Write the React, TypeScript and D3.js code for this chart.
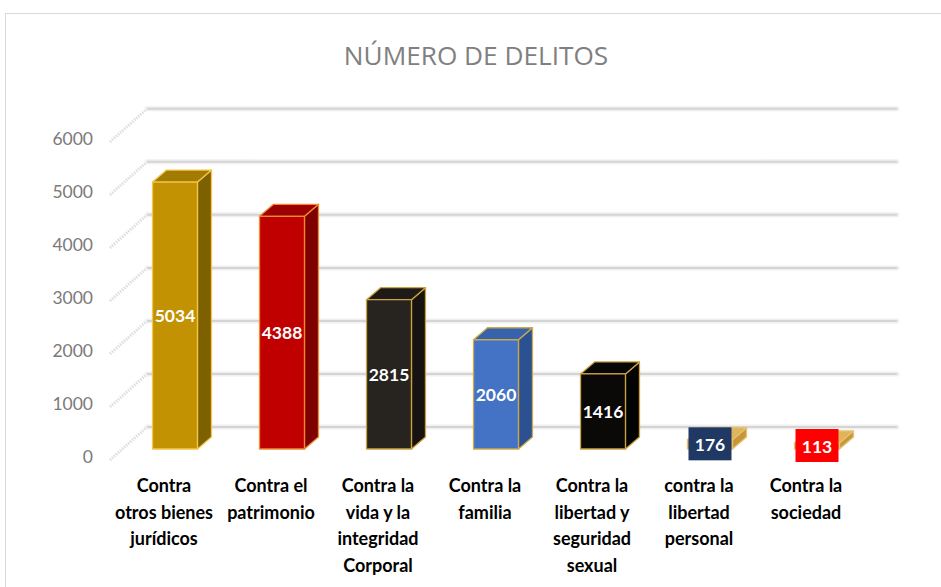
import React from "react";
import * as d3 from "d3";

const categories: string[][] = [
  ["Contra", "otros bienes", "jurídicos"],
  ["Contra el", "patrimonio"],
  ["Contra la", "vida y la", "integridad", "Corporal"],
  ["Contra la", "familia"],
  ["Contra la", "libertad y", "seguridad", "sexual"],
  ["contra la", "libertad", "personal"],
  ["Contra la", "sociedad"],
];
const values: number[] = [5034, 4388, 2815, 2060, 1416, 176, 113];
const yTicks: number[] = [0, 1000, 2000, 3000, 4000, 5000, 6000];
const title = "NÚMERO DE DELITOS";

const frontColors = ["#C29202", "#C00000", "#27231f", "#4472C4", "#0a0908", "#d4a545", "#d4a545"];
const sideColors = ["#7d6000", "#7e0000", "#161310", "#2c5193", "#030303", "#c8963a", "#c8963a"];
const topColors = ["#a27b02", "#9c0000", "#1d1a17", "#3762ad", "#070707", "#e0b45a", "#e0b45a"];
const edgeColors = ["#f3c64a", "#f08a30", "#caa240", "#c9a94a", "#caa240", "#e6c070", "#e6c070"];
const boxFills: (string | null)[] = [null, null, null, null, null, "#1F3864", "#FF0000"];

export default function App() {
  const W = 941;
  const H = 587;
  const keys = categories.map((_, i) => String(i));
  const x = d3
    .scaleBand<string>()
    .domain(keys)
    .range([121.5, 870.5])
    .paddingInner(0.58)
    .paddingOuter(0.29);
  const y = d3.scaleLinear().domain([0, 6000]).range([449, 130.8]);
  const bw = x.bandwidth();
  const dx = 14;
  const dy = 12;
  const wallDy = 22;
  const gridX0 = 147;
  const gridX1 = 897;

  return (
    <svg
      width={W}
      height={H}
      style={{ position: "absolute", left: 0, top: 0, background: "#fff" }}
      xmlns="http://www.w3.org/2000/svg"
    >
      <rect x={0} y={0} width={W} height={H} fill="#fff" />
      <rect x={5.5} y={13.5} width={980} height={620} fill="#fff" stroke="#d9d9d9" strokeWidth={1} />
      <text
        x={476}
        y={65}
        textAnchor="middle"
        fontFamily="'Open Sans', sans-serif"
        fontSize={26.2}
        fill="#808080"
      >
        {title}
      </text>

      {/* side wall hatch + gridlines */}
      {yTicks.map((t) => {
        const gy = y(t) - wallDy;
        return (
          <g key={"g" + t}>
            <line x1={110} y1={gy + 33} x2={gridX0} y2={gy} stroke="#dedede" strokeWidth={3} strokeDasharray="1.5,1.2" />
            <line x1={gridX0} y1={gy} x2={gridX1} y2={gy} stroke="#f0f0f0" strokeWidth={5} strokeLinecap="round" />
            <line x1={gridX0} y1={gy} x2={gridX1} y2={gy} stroke="#d4d4d4" strokeWidth={2} />
          </g>
        );
      })}

      {/* y axis labels */}
      {yTicks.map((t) => (
        <text
          key={"yl" + t}
          x={93}
          y={y(t) + 8 + 6}
          textAnchor="end"
          fontFamily="Lato, sans-serif"
          fontSize={17.5}
          fill="#7a7a7a"
        >
          {t}
        </text>
      ))}

      {/* bars */}
      {values.map((v, i) => {
        const x0 = x(String(i)) as number;
        const x1 = x0 + bw;
        const yt = y(v);
        const yb = y(0);
        const front = `M${x0},${yt}L${x1},${yt}L${x1},${yb}L${x0},${yb}Z`;
        const side = `M${x1},${yt}L${x1 + dx},${yt - dy}L${x1 + dx},${yb - dy}L${x1},${yb}Z`;
        const top = `M${x0},${yt}L${x1},${yt}L${x1 + dx},${yt - dy}L${x0 + dx},${yt - dy}Z`;
        return (
          <g key={"b" + i} stroke={edgeColors[i]} strokeWidth={1.3} strokeLinejoin="round">
            <path d={side} fill={sideColors[i]} />
            <path d={top} fill={topColors[i]} />
            <path d={front} fill={frontColors[i]} />
          </g>
        );
      })}

      {/* value labels */}
      {values.map((v, i) => {
        const x0 = x(String(i)) as number;
        const cx = x0 + bw / 2;
        const cy = (y(v) + y(0)) / 2;
        const box = boxFills[i];
        return (
          <g key={"v" + i}>
            {box && <rect x={cx - 21.5} y={cy - 17} width={43} height={33} fill={box} />}
            <text
              x={cx}
              y={cy + 6.5}
              textAnchor="middle"
              fontFamily="Lato, sans-serif"
              fontWeight={700}
              fontSize={17.5}
              fill="#ffffff"
            >
              {v}
            </text>
          </g>
        );
      })}

      {/* category labels */}
      {categories.map((lines, i) => {
        const cx = (x(String(i)) as number) + bw / 2 - 11;
        return (
          <text
            key={"c" + i}
            textAnchor="middle"
            fontFamily="Lato, sans-serif"
            fontWeight={700}
            fontSize={18}
            fill="#000"
          >
            {lines.map((ln, j) => (
              <tspan key={j} x={cx} y={492 + j * 26.7}>
                {ln}
              </tspan>
            ))}
          </text>
        );
      })}
    </svg>
  );
}
